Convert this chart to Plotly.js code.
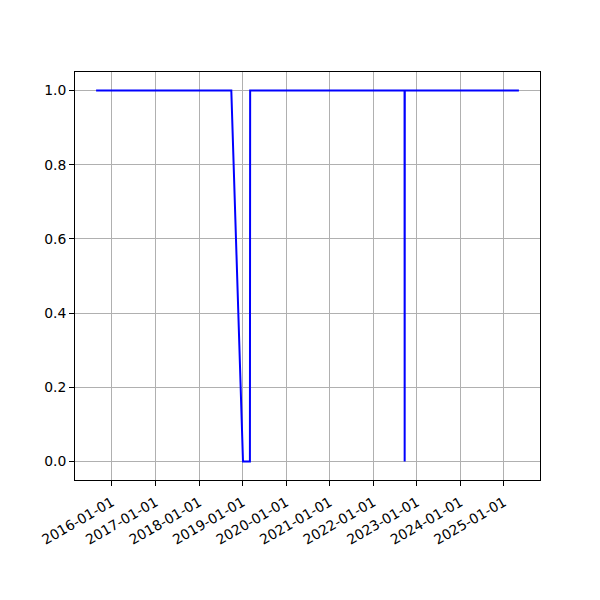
<!DOCTYPE html>
<html>
<head>
<meta charset="utf-8">
<script src="https://cdn.plot.ly/plotly-3.0.1.min.js"></script>
<style>html,body{margin:0;padding:0;background:#fff;}#chart{width:600px;height:600px;}</style>
</head>
<body>
<div id="chart"></div>
<script>
const dates = ['2015-08-21', '2018-09-28', '2019-01-04', '2019-03-03', '2019-03-05', '2022-09-20', '2022-09-21', '2022-09-22', '2025-05-06'];
const values = [1, 1, 0, 0, 1, 1, 0, 1, 1];
const tickDates = ['2016-01-01', '2017-01-01', '2018-01-01', '2019-01-01', '2020-01-01', '2021-01-01', '2022-01-01', '2023-01-01', '2024-01-01', '2025-01-01'];
const yTicks = [0, 0.2, 0.4, 0.6, 0.8, 1.0];
const yTickText = ['0.0', '0.2', '0.4', '0.6', '0.8', '1.0'];

const trace = {
  x: dates, y: values, type: 'scatter', mode: 'lines',
  line: {color: '#0000ff', width: 2}, hoverinfo: 'skip'
};
const font = {family: 'DejaVu Sans, sans-serif', size: 13.9, color: '#000'};
const layout = {
  width: 600, height: 600,
  margin: {l: 75, r: 60, t: 72, b: 120},
  paper_bgcolor: '#fff', plot_bgcolor: '#fff',
  showlegend: false,
  font: font,
  xaxis: {
    type: 'date',
    range: ['2015-02-25', '2025-10-30'],
    tickmode: 'array', tickvals: tickDates, ticktext: tickDates,
    tickangle: -30,
    ticks: 'outside', ticklen: 5, tickwidth: 1, tickcolor: '#000',
    ticklabelstandoff: 3,
    showgrid: true, gridcolor: '#b0b0b0', gridwidth: 1,
    showline: true, linecolor: '#000', linewidth: 1, mirror: true,
    zeroline: false, tickfont: font
  },
  yaxis: {
    range: [-0.05, 1.05],
    tickmode: 'array', tickvals: yTicks, ticktext: yTickText,
    ticks: 'outside', ticklen: 5, tickwidth: 1, tickcolor: '#000',
    showgrid: true, gridcolor: '#b0b0b0', gridwidth: 1,
    showline: true, linecolor: '#000', linewidth: 1, mirror: true,
    zeroline: false, tickfont: font
  }
};
Plotly.newPlot('chart', [trace], layout, {displayModeBar: false, staticPlot: true});
</script>
</body>
</html>
